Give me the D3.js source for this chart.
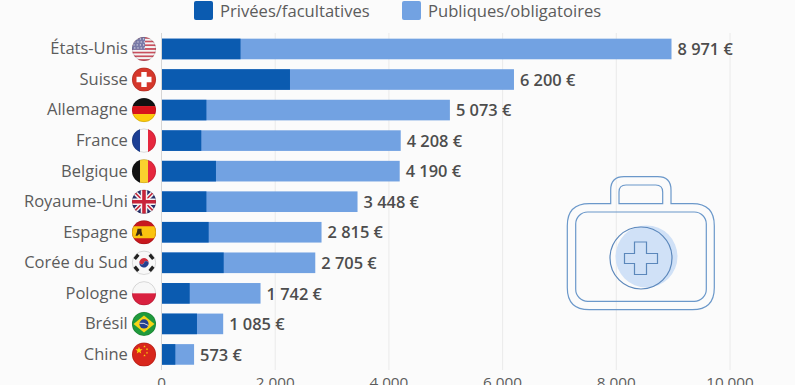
<!DOCTYPE html>
<html><head><meta charset="utf-8">
<script src="https://cdn.jsdelivr.net/npm/d3@7/dist/d3.min.js"></script>
<style>html,body{margin:0;padding:0;background:#fbfbfb;overflow:hidden}svg{display:block}text{font-family:"Open Sans",sans-serif}</style>
</head><body><svg id="c" width="795" height="385"></svg>
<script>
const categories=["États-Unis","Suisse","Allemagne","France","Belgique","Royaume-Uni","Espagne","Corée du Sud","Pologne","Brésil","Chine"];
const flagCodes=["us","ch","de","fr","be","gb","es","kr","pl","br","cn"];
const totals=[8971,6200,5073,4208,4190,3448,2815,2705,1742,1085,573];
const privateValues=[1390,2260,790,700,958,790,830,1094,496,624,243];
const totalLabels=["8 971 €","6 200 €","5 073 €","4 208 €","4 190 €","3 448 €","2 815 €","2 705 €","1 742 €","1 085 €","573 €"];
const legendLabels=["Privées/facultatives","Publiques/obligatoires"];
const tickValues=[0,2000,4000,6000,8000,10000];
const tickLabels=["0","2 000","4 000","6 000","8 000","10 000"];
const darkBlue="#0b5bb0",lightBlue="#72a2e2",textGrey="#5c5c5c",valueGrey="#4d4d4d";

const svg=d3.select("#c");
const x=d3.scaleLinear().domain([0,10000]).range([161.5,730]);
const y=d3.scaleBand().domain(categories).range([33.7,369.7]).paddingInner(0.325).paddingOuter(0.1625);

// grid
svg.append("g").selectAll("line").data(tickValues.slice(1)).join("line")
 .attr("x1",d=>x(d)).attr("x2",d=>x(d)).attr("y1",33).attr("y2",370)
 .attr("stroke","#eaeaea").attr("stroke-width",1);
svg.append("line").attr("x1",x(0)).attr("x2",x(0)).attr("y1",33).attr("y2",370).attr("stroke","#d6d6d6").attr("stroke-width",1);

// illustration
const ic=svg.append("g").attr("fill","none").attr("stroke","#6b98ca").attr("stroke-width",1.2);
ic.append("circle").attr("cx",646.5).attr("cy",256.5).attr("r",31).attr("fill","#d0e1f7").attr("stroke","none");
ic.append("path").attr("d","M610.7 203.7V190Q610.7 176.7 624 176.7H657.7Q671 176.7 671 190V203.7H692.3Q714.3 203.7 714.3 225.7V287.7Q714.3 309.7 692.3 309.7H589.3Q567.3 309.7 567.3 287.7V225.7Q567.3 203.7 589.3 203.7Z");
ic.append("path").attr("d","M619 203.7V192Q619 185 626 185H655.7Q662.7 185 662.7 192V203.7Z");
ic.append("rect").attr("x",575.7).attr("y",212).attr("width",130.6).attr("height",89.3).attr("rx",12);
ic.append("circle").attr("cx",641).attr("cy",258).attr("r",31).attr("stroke","#5b87bb");
ic.append("path").attr("stroke","#5b87bb").attr("d","M634.5 242H646.5V253.5H657.5V263.5H646.5V274.5H634.5V263.5H624.5V253.5H634.5Z");

// bars
const rows=svg.append("g").selectAll("g").data(categories).join("g");
rows.append("rect").attr("x",x(0)+0.5).attr("y",d=>y(d)).attr("height",y.bandwidth())
 .attr("width",(d,i)=>x(totals[i])-x(0)-0.5).attr("fill",lightBlue);
rows.append("rect").attr("x",x(0)+0.5).attr("y",d=>y(d)).attr("height",y.bandwidth())
 .attr("width",(d,i)=>x(privateValues[i])-x(0)-0.5).attr("fill",darkBlue);
rows.append("text").attr("x",127.8).attr("y",d=>y(d)+y.bandwidth()/2+5.4)
 .attr("text-anchor","end").attr("font-size",16.5).attr("fill",textGrey).text(d=>d);
rows.append("text").attr("x",(d,i)=>x(totals[i])+6).attr("y",d=>y(d)+y.bandwidth()/2+6.2)
 .attr("font-size",16.4).attr("font-weight",600).attr("fill",valueGrey).text((d,i)=>totalLabels[i]);

// flags
const defs=svg.append("defs");
defs.append("clipPath").attr("id","fc").append("circle").attr("r",12);
const stripesV=(g,cols)=>cols.forEach((c,i)=>g.append("rect").attr("x",-12+i*8).attr("y",-12).attr("width",8.2).attr("height",24).attr("fill",c));
const stripesH=(g,cols)=>cols.forEach((c,i)=>g.append("rect").attr("x",-12).attr("y",-12+i*24/cols.length).attr("width",24).attr("height",24/cols.length+.2).attr("fill",c));
const star=(g,cx,cy,r,f)=>{const p=d3.range(10).map(k=>{const a=k*Math.PI/5-Math.PI/2,q=k%2?r*.42:r;return[cx+q*Math.cos(a),cy+q*Math.sin(a)]});g.append("polygon").attr("points",p.join(" ")).attr("fill",f)};
const draw={
 us(g){d3.range(13).forEach(i=>g.append("rect").attr("x",-12).attr("y",-12+i*24/13).attr("width",24).attr("height",24/13+.1).attr("fill",i%2?"#f4f4f4":"#c8505e"));
  g.append("rect").attr("x",-12).attr("y",-12).attr("width",13).attr("height",12.9).attr("fill","#7a7aa8");
  d3.range(4).forEach(r=>d3.range(4).forEach(c=>g.append("circle").attr("cx",-10+c*3.2+(r%2)*.8).attr("cy",-10+r*3).attr("r",.6).attr("fill","#eee")));},
 ch(g){g.append("rect").attr("x",-12).attr("y",-12).attr("width",24).attr("height",24).attr("fill","#d5372b");
  g.append("path").attr("fill","#fff").attr("d","M-2.7-7.5H2.7V-2.7H7.5V2.7H2.7V7.5H-2.7V2.7H-7.5V-2.7H-2.7Z");},
 de(g){stripesH(g,["#111","#d8141c","#fdcb0b"]);},
 fr(g){stripesV(g,["#1c3f94","#fafafa","#e6273e"]);},
 be(g){stripesV(g,["#111","#fad02e","#e6273e"]);},
 gb(g){g.append("rect").attr("x",-12).attr("y",-12).attr("width",24).attr("height",24).attr("fill","#27306b");
  g.append("path").attr("stroke","#f4f4f4").attr("stroke-width",4.5).attr("d","M-12-12L12 12M12-12L-12 12");
  g.append("path").attr("stroke","#c8253a").attr("stroke-width",1.6).attr("d","M-12-12L12 12M12-12L-12 12");
  g.append("path").attr("stroke","#f4f4f4").attr("stroke-width",6.5).attr("d","M0-12V12M-12 0H12");
  g.append("path").attr("stroke","#c8253a").attr("stroke-width",3.6).attr("d","M0-12V12M-12 0H12");},
 es(g){g.append("rect").attr("x",-12).attr("y",-12).attr("width",24).attr("height",24).attr("fill","#c8181e");
  g.append("rect").attr("x",-12).attr("y",-6).attr("width",24).attr("height",12).attr("fill","#fbc40f");
  g.append("path").attr("fill","#3c2a12").attr("d","M-6.5-3.5H-2.5V-1L-1.5 3.5H-4L-4.5 1.5-6.5 3.5H-8.5L-7-.5Z");},
 kr(g){g.append("rect").attr("x",-12).attr("y",-12).attr("width",24).attr("height",24).attr("fill","#f8f8f8");
  g.append("path").attr("fill","#cf2e3e").attr("d","M-4.5-1.5A4.7 4.7 0 0 1 4.5 1.5A2.3 2.3 0 0 0 0 0A2.3 2.3 0 0 1-4.5-1.5Z");
  g.append("path").attr("fill","#24408e").attr("d","M-4.5-1.5A4.7 4.7 0 0 0 4.5 1.5A2.3 2.3 0 0 0 0 0A2.3 2.3 0 0 1-4.5-1.5Z");
  [[-7.5,-6,-50],[7.5,-6,50],[-7.5,6,50],[7.5,6,-50]].forEach(([a,b,r])=>g.append("rect").attr("x",a-2.8).attr("y",b-1.6).attr("width",5.6).attr("height",3.2).attr("fill","#222").attr("transform",`rotate(${r} ${a} ${b})`));},
 pl(g){stripesH(g,["#f7f7f7","#d9213f"]);},
 br(g){g.append("rect").attr("x",-12).attr("y",-12).attr("width",24).attr("height",24).attr("fill","#1f9a3c");
  g.append("path").attr("fill","#f7d417").attr("d","M0-8.5L10.5 0 0 8.5-10.5 0Z");
  g.append("circle").attr("r",4.6).attr("fill","#23408f");
  g.append("path").attr("stroke","#eee").attr("stroke-width",.9).attr("fill","none").attr("d","M-4.5-.6Q0-1.5 4.3 1.6");},
 cn(g){g.append("rect").attr("x",-12).attr("y",-12).attr("width",24).attr("height",24).attr("fill","#d8261c");
  star(g,-5,-4,3.8,"#fbd50b");[[0.5,-8],[3,-5.2],[3,-1.6],[0.5,1]].forEach(p=>star(g,p[0],p[1],1.3,"#fbd50b"));}
};
const fl=svg.append("g").selectAll("g").data(categories).join("g")
 .attr("transform",d=>`translate(144,${y(d)+y.bandwidth()/2})`);
fl.each(function(d,i){const g=d3.select(this).append("g").attr("clip-path","url(#fc)");draw[flagCodes[i]](g);});
fl.append("circle").attr("r",11.7).attr("fill","none").attr("stroke","#000").attr("stroke-opacity",.22).attr("stroke-width",.6);

// axis labels (the reference crops them at the bottom edge)
svg.append("g").selectAll("text").data(tickValues).join("text")
 .attr("x",d=>x(d)).attr("y",387.7).attr("text-anchor","middle").attr("font-size",15.3).attr("fill",textGrey)
 .text((d,i)=>tickLabels[i]);

// legend
const legendX=[194,402];
const lg=svg.append("g").selectAll("g").data(legendLabels).join("g");
lg.append("rect").attr("x",(d,i)=>legendX[i]).attr("y",1).attr("width",19).attr("height",19).attr("rx",2).attr("fill",(d,i)=>i?lightBlue:darkBlue);
lg.append("text").attr("x",(d,i)=>legendX[i]+26).attr("y",16.6).attr("font-size",16.6).attr("fill",textGrey).text(d=>d);
</script></body></html>
